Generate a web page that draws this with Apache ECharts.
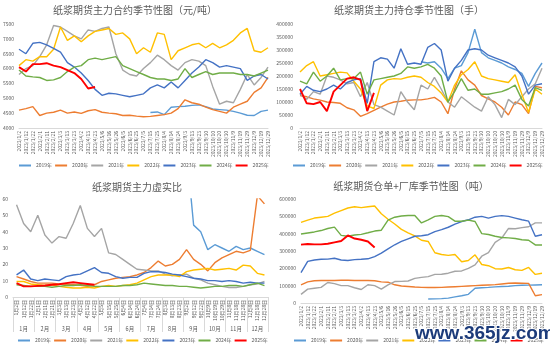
<!DOCTYPE html>
<html>
<head>
<meta charset="utf-8">
<script src="https://cdn.jsdelivr.net/npm/echarts@6/dist/echarts.min.js"></script>
<style>
  html, body { margin: 0; padding: 0; background: #fff; }
  #chart { width: 550px; height: 351px; }
</style>
</head>
<body>
<div id="chart"></div>
<script>
// x 轴日期（价格、持仓、仓单三图共用）
const dateLabels = ['2023/1/2','2023/1/12','2023/1/22','2023/2/1','2023/2/11','2023/2/21','2023/3/3','2023/3/13','2023/3/23',
  '2023/4/2','2023/4/13','2023/4/23','2023/5/6','2023/5/16','2023/5/26','2023/6/5','2023/6/15','2023/6/25',
  '2023/7/5','2023/7/15','2023/7/25','2023/8/4','2023/8/14','2023/8/24','2023/9/3','2023/9/13','2023/9/23',
  '2023/9/30','2023/10/10','2023/10/20','2023/10/30','2023/11/9','2023/11/19','2023/11/29','2023/12/9','2023/12/19','2023/12/29']
// 虚实比图的日期和月份
const dayLabels = ['1月2日','1月12日','1月22日','2月1日','2月11日','2月21日','3月3日','3月13日','3月23日',
  '4月2日','4月12日','4月22日','5月5日','5月15日','5月25日','6月4日','6月14日','6月24日',
  '7月4日','7月14日','7月24日','8月3日','8月13日','8月23日','9月2日','9月12日','9月22日',
  '10月9日','10月19日','10月29日','11月8日','11月18日','11月28日','12月8日','12月18日','12月28日']
const months = ['1月','2月','3月','4月','5月','6月','7月','8月','9月','10月','11月','12月']
const years = ['2019年','2020年','2021年','2022年','2023年','2024年','2025年']
const colors = ['#5B9BD5','#ED7D31','#A5A5A5','#FFC000','#4472C4','#70AD47','#FF0000']

// 前面空 n 个位置（该年份数据从年中开始）
function after(n, vals) { return new Array(n).fill(null).concat(vals) }

// 主力合约价格（元/吨）
const price2019 = after(19, [4520,4540,4450,4700,4720,4730,4760,4780,4720,4640,4620,4600,4560,4500,4430,4420,4560,4600])
const price2020 = [4600,4650,4720,4420,4500,4530,4600,4500,4540,4490,4580,4620,4530,4500,4480,4420,4430,4400,4380,4390,4420,4450,4500,4650,4950,4850,4800,4700,4620,4560,4500,4700,4800,4900,5200,5350,5700]
const price2021 = [5800,6000,6100,6400,6800,7450,7400,7250,7100,7000,7300,7250,7350,7400,6500,5950,5800,5750,6000,6200,6450,6300,6100,5950,6200,6300,6250,6100,5400,4800,4900,4850,5300,5800,5450,5700,6050]
const price2022 = [6100,6300,6250,6400,6400,6650,7400,6950,7100,6900,7100,7250,7300,7350,7150,7200,7000,6500,6700,6550,7200,7150,6300,6600,6700,6800,6850,6700,6850,6700,6800,6950,7200,7350,6600,6550,6700]
const price2023 = [6650,6500,6850,6880,6800,6680,6550,6200,6050,5850,5600,5300,5100,5170,5150,5100,5050,5100,5150,5350,5450,5350,5550,5350,5600,5850,6050,6300,6200,6050,6100,6050,6000,5600,5750,5800,5650]
const price2024 = [5950,5750,5720,5700,5600,5620,5700,5900,6050,6100,6300,6350,6300,6350,6400,6100,6000,5900,5800,5700,5650,5650,5600,5650,6000,5700,5800,5900,5800,5850,5850,5850,5800,5800,5750,5850,5950]
const price2025 = [6050,5900,6150,6150,6180,6100,6050,5950,5850,5650,5330,5380]

// 主力持仓（手）
const oi2019 = after(18, [255000,250000,255000,230000,190000,230000,240000,290000,380000,290000,270000,260000,250000,235000,225000,210000,160000,210000,250000])
const oi2020 = [125000,120000,112000,107000,100000,98000,95000,78000,70000,45000,55000,68000,80000,92000,100000,103000,107000,108000,108000,112000,118000,100000,55000,150000,220000,185000,165000,125000,112000,100000,80000,50000,100000,90000,55000,160000,155000]
const oi2021 = [130000,110000,140000,130000,200000,195000,185000,170000,175000,120000,175000,90000,80000,65000,50000,140000,100000,70000,165000,150000,195000,150000,100000,80000,120000,100000,80000,65000,120000,90000,40000,110000,90000,120000,150000,170000,230000]
const oi2022 = [215000,240000,255000,200000,205000,210000,215000,212000,180000,150000,85000,75000,165000,185000,190000,188000,195000,200000,195000,175000,160000,135000,100000,165000,205000,225000,255000,200000,190000,185000,180000,175000,205000,130000,60000,150000,130000]
const oi2023 = [130000,160000,145000,140000,150000,165000,150000,175000,185000,190000,95000,255000,270000,265000,230000,305000,245000,250000,245000,310000,325000,300000,180000,230000,260000,300000,305000,300000,280000,270000,260000,250000,235000,200000,130000,165000,170000]
const oi2024 = [180000,170000,215000,180000,200000,230000,185000,190000,190000,215000,130000,185000,190000,195000,200000,210000,235000,230000,235000,245000,230000,200000,100000,140000,190000,145000,150000,130000,130000,135000,140000,150000,165000,110000,85000,155000,145000]
const oi2025 = [150000,95000,92000,100000,65000,140000,165000,190000,195000,185000,65000,135000]

// 主力虚实比
const ratio2019 = after(24, [90,44,40,29,32,30,28,31,29,30,28,26])
const ratio2020 = [12.5,11,9.5,8.5,8.5,8.5,8,7.8,7.5,7.2,6.5,7.5,9.5,10.5,11.5,12,12.5,13.5,15,18,22,19,20,23,29,23,20,16,21,24,26,28,27,28.5,62,57]
const ratio2021 = [56.5,45,40,50,38,33,37,36,45,56,42,37,42,27,26,23,20,17,16.5,16,16,14,13,13.5,14,11.5,10.5,8.5,7.5,6.5,5.8,5.8,6.5,7.5,8,9.5]
const ratio2022 = [9.5,9.5,8,7.5,7,7.5,6.5,6,5.5,5.5,6,5.5,6.5,7,6.5,7,7.5,8.5,10.5,12.5,13.5,13.5,13.5,12.5,15.5,16.5,17,17.5,16.5,17,17.5,16.5,19.5,19,14.5,13.5]
const ratio2023 = [13.5,16.5,11,10,11,10.5,10,12.5,13.5,14,16,18,15,14.5,12.5,11.5,12,12,14.5,15.5,15.5,15,14,13.5,12.5,11.5,11,10,10,9.5,10,9.5,8.5,9,8.5,8.5]
const ratio2024 = [7.5,7,6.5,6.5,6.5,6,6.5,7,7,7.5,7,6.5,6.5,6.5,6.5,7,7,7.5,8.5,8,7.5,7,7,6.5,6.5,6,5.5,6,6.5,6.5,7,7,6.5,7.5,8.5,7]
const ratio2025 = [8.5,6.5,6.5,6.8,7,7.5,7.8,8.5,9,8.5,8,7.5]

// 仓单+厂库（吨）
const wr2019 = after(19, [23000,24000,25000,28000,35000,42000,50000,85000,88000,90000,93000,95000,97000,100000,102000,103000,104000,105000])
const wr2020 = [105000,122000,128000,130000,130000,130000,131000,131000,130000,130000,130000,128000,122000,120000,105000,98000,95000,92000,90000,89000,89000,90000,92000,94000,96000,98000,100000,102000,104000,106000,110000,114000,115000,114000,113000,42000,48000]
const wr2021 = [50000,80000,85000,90000,118000,112000,100000,100000,88000,78000,105000,100000,80000,105000,124000,125000,127000,142000,148000,152000,165000,166000,172000,183000,185000,200000,220000,270000,290000,350000,375000,430000,428000,435000,440000,462000,462000]
const wr2022 = [465000,478000,490000,495000,500000,518000,533000,548000,555000,550000,555000,560000,515000,483000,456000,425000,405000,387000,362000,355000,290000,280000,275000,280000,238000,245000,278000,222000,215000,198000,196000,205000,192000,188000,205000,165000,172000]
const wr2023 = [175000,240000,248000,252000,253000,258000,248000,245000,250000,252000,255000,268000,288000,312000,336000,355000,370000,385000,388000,394000,412000,423000,437000,455000,470000,480000,495000,500000,490000,500000,504000,500000,490000,480000,472000,385000,394000]
const wr2024 = [398000,404000,410000,418000,430000,438000,390000,385000,392000,396000,405000,415000,420000,478000,495000,502000,505000,505000,462000,480000,500000,505000,498000,472000,472000,478000,470000,400000,395000,385000,378000,376000,372000,365000,362000,335000,335000]
const wr2025 = [337000,340000,338000,338000,342000,350000,358000,390000,372000,365000,355000,320000]

const panels = [
  { xi: 0, yi: 0, data: [price2019, price2020, price2021, price2022, price2023, price2024, price2025] },
  { xi: 1, yi: 1, data: [oi2019, oi2020, oi2021, oi2022, oi2023, oi2024, oi2025] },
  { xi: 2, yi: 2, data: [ratio2019, ratio2020, ratio2021, ratio2022, ratio2023, ratio2024, ratio2025] },
  { xi: 4, yi: 3, data: [wr2019, wr2020, wr2021, wr2022, wr2023, wr2024, wr2025] }
]

const font = '"Noto Sans CJK SC", sans-serif'
const labelColor = '#595959'
const lineColor = '#d9d9d9'

function dateAxis(grid, data, extra) {
  return Object.assign({
    type: 'category', gridIndex: grid, data: data, boundaryGap: false,
    axisLine: { lineStyle: { color: lineColor } },
    axisTick: { show: false },
    axisLabel: { color: labelColor, fontSize: 5, rotate: 90, interval: 0, margin: 3 }
  }, extra || {})
}

function valueAxis(grid, min, max, interval, margin) {
  return {
    type: 'value', gridIndex: grid, min: min, max: max, interval: interval,
    axisLine: { show: false }, axisTick: { show: false }, splitLine: { show: false },
    axisLabel: { color: labelColor, fontSize: 5, margin: margin, formatter: v => String(v) }
  }
}

function title(text, x, y) {
  return { text: text, left: x, top: y, textAlign: 'center', padding: 0,
    textStyle: { fontSize: 10, fontWeight: 'normal', color: labelColor, fontFamily: font } }
}

function legend(x, y) {
  return { left: x, top: y, padding: 0, icon: 'rect', itemWidth: 12, itemHeight: 2, itemGap: 3,
    data: years, selectedMode: false, textStyle: { fontSize: 5, color: labelColor, fontFamily: font } }
}

const series = []
panels.forEach(p => {
  p.data.forEach((vals, k) => {
    series.push({
      name: years[k], type: 'line', xAxisIndex: p.xi, yAxisIndex: p.yi, data: vals,
      showSymbol: false, symbol: 'none', clip: true,
      lineStyle: { width: k === 6 ? 1.9 : 1.4, color: colors[k] },
      itemStyle: { color: colors[k] }
    })
  })
})

const chart = echarts.init(document.getElementById('chart'))
chart.setOption({
  animation: false,
  backgroundColor: '#fff',
  textStyle: { fontFamily: font },
  title: [
    title('纸浆期货主力合约季节性图（元/吨）', 135, 5),
    title('纸浆期货主力持仓季节性图（手）', 409, 5),
    title('纸浆期货主力虚实比', 137, 182),
    title('纸浆期货仓单+厂库季节性图（吨）', 411, 181)
  ],
  legend: [legend(19, 163), legend(293, 163), legend(18, 338), legend(294, 338)],
  grid: [
    { left: 19, right: 282, top: 24, height: 104, outerBoundsMode: 'none' },
    { left: 300, right: 8, top: 24, height: 104, outerBoundsMode: 'none' },
    { left: 13, right: 282, top: 199, height: 98, outerBoundsMode: 'none' },
    { left: 301, right: 8, top: 199, height: 104, outerBoundsMode: 'none' }
  ],
  xAxis: [
    dateAxis(0, dateLabels),
    dateAxis(1, dateLabels),
    dateAxis(2, dayLabels, { boundaryGap: true }),
    {
      type: 'category', gridIndex: 2, data: months, position: 'bottom', boundaryGap: true,
      axisLine: { show: false },
      axisTick: { show: true, length: 35, lineStyle: { color: lineColor } },
      axisLabel: { color: labelColor, fontSize: 5.5, margin: 29, interval: 0 }
    },
    dateAxis(3, dateLabels)
  ],
  yAxis: [
    valueAxis(0, 4000, 7500, 500, 5),
    valueAxis(1, 0, 400000, 50000, 7),
    valueAxis(2, 0, 60, 10, 5),
    valueAxis(3, 0, 600000, 100000, 5)
  ],
  series: series,
  graphic: [{
    type: 'text', left: 414, top: 323, z: 100,
    style: { text: 'www.365jz.com', font: 'bold 19px "Liberation Sans", sans-serif',
      fill: '#1c3b7a', stroke: '#fff', lineWidth: 2 }
  }]
})
</script>
</body>
</html>
